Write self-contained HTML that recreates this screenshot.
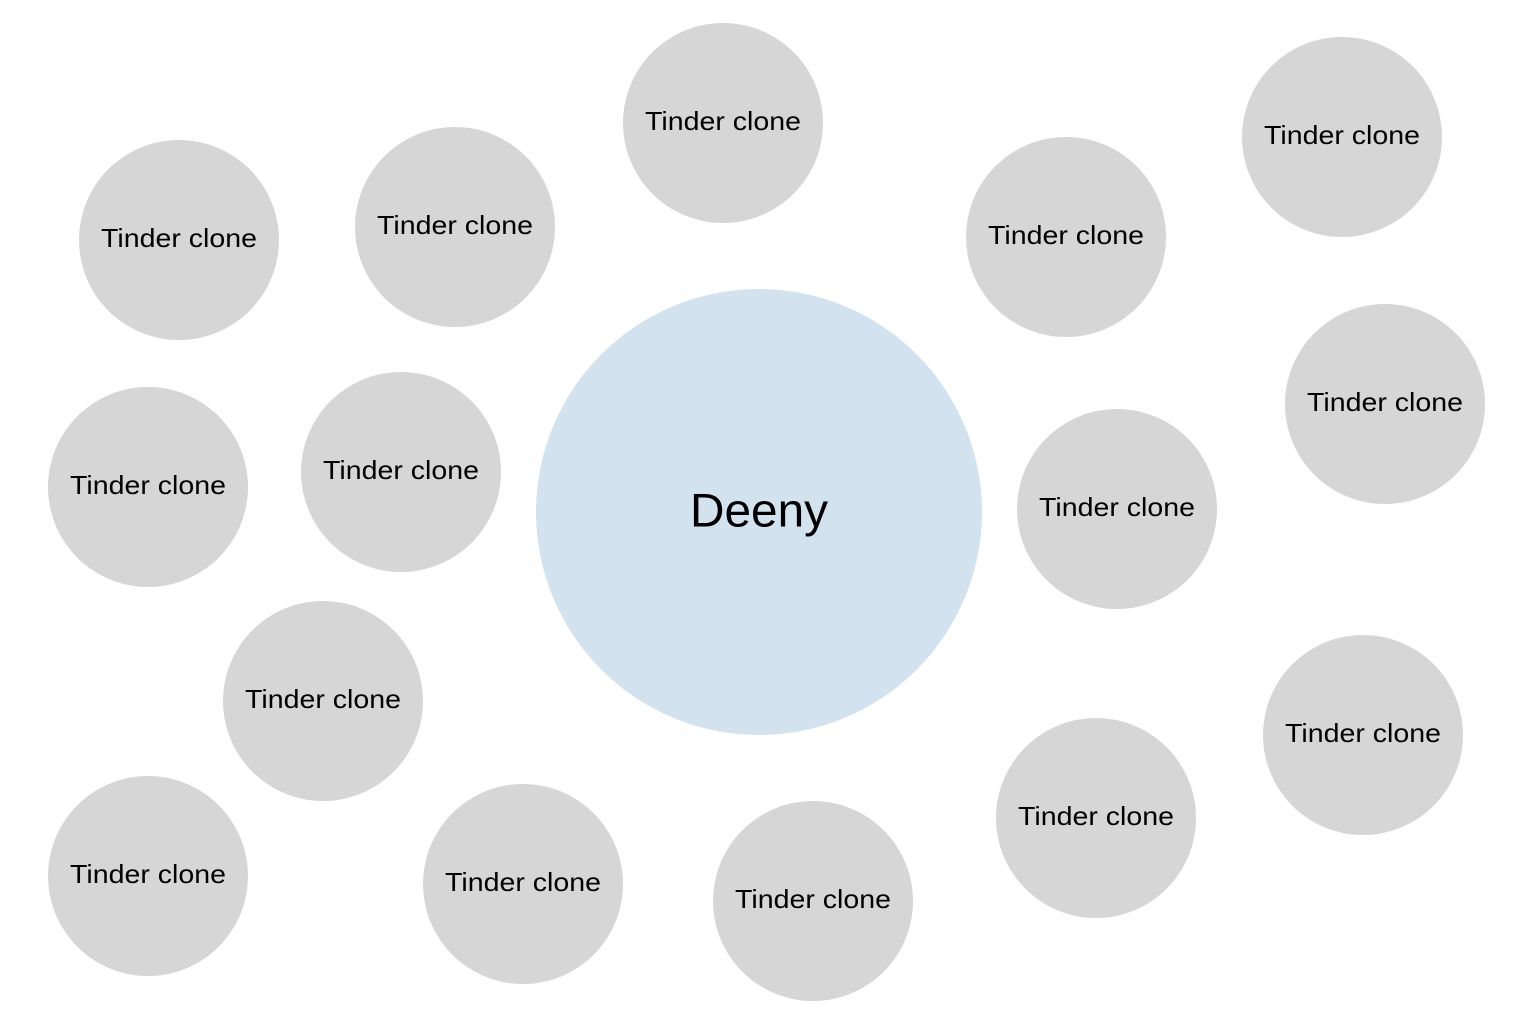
<!DOCTYPE html>
<html><head><meta charset="utf-8"><style>
html,body{margin:0;padding:0;background:#fff;}
svg{display:block;}
text{font-family:"Liberation Sans",sans-serif;fill:#000;text-anchor:middle;dominant-baseline:central;}
</style></head><body>
<svg width="1517" height="1024" viewBox="0 0 1517 1024">
<circle cx="759" cy="512" r="223" fill="#d2e3ef"/>
<text x="759" y="510" font-size="47" textLength="138" lengthAdjust="spacingAndGlyphs">Deeny</text>
<g fill="#d6d6d6">
<circle cx="723" cy="123" r="100"/>
<circle cx="1342" cy="137" r="100"/>
<circle cx="179" cy="240" r="100"/>
<circle cx="455" cy="227" r="100"/>
<circle cx="1066" cy="237" r="100"/>
<circle cx="1385" cy="404" r="100"/>
<circle cx="148" cy="487" r="100"/>
<circle cx="401" cy="472" r="100"/>
<circle cx="1117" cy="509" r="100"/>
<circle cx="323" cy="701" r="100"/>
<circle cx="1363" cy="735" r="100"/>
<circle cx="1096" cy="818" r="100"/>
<circle cx="148" cy="876" r="100"/>
<circle cx="523" cy="884" r="100"/>
<circle cx="813" cy="901" r="100"/>
</g>
<g font-size="26">
<text x="723" y="121" textLength="156" lengthAdjust="spacingAndGlyphs">Tinder clone</text>
<text x="1342" y="135" textLength="156" lengthAdjust="spacingAndGlyphs">Tinder clone</text>
<text x="179" y="238" textLength="156" lengthAdjust="spacingAndGlyphs">Tinder clone</text>
<text x="455" y="225" textLength="156" lengthAdjust="spacingAndGlyphs">Tinder clone</text>
<text x="1066" y="235" textLength="156" lengthAdjust="spacingAndGlyphs">Tinder clone</text>
<text x="1385" y="402" textLength="156" lengthAdjust="spacingAndGlyphs">Tinder clone</text>
<text x="148" y="485" textLength="156" lengthAdjust="spacingAndGlyphs">Tinder clone</text>
<text x="401" y="470" textLength="156" lengthAdjust="spacingAndGlyphs">Tinder clone</text>
<text x="1117" y="507" textLength="156" lengthAdjust="spacingAndGlyphs">Tinder clone</text>
<text x="323" y="699" textLength="156" lengthAdjust="spacingAndGlyphs">Tinder clone</text>
<text x="1363" y="733" textLength="156" lengthAdjust="spacingAndGlyphs">Tinder clone</text>
<text x="1096" y="816" textLength="156" lengthAdjust="spacingAndGlyphs">Tinder clone</text>
<text x="148" y="874" textLength="156" lengthAdjust="spacingAndGlyphs">Tinder clone</text>
<text x="523" y="882" textLength="156" lengthAdjust="spacingAndGlyphs">Tinder clone</text>
<text x="813" y="899" textLength="156" lengthAdjust="spacingAndGlyphs">Tinder clone</text>
</g>
</svg>
</body></html>
